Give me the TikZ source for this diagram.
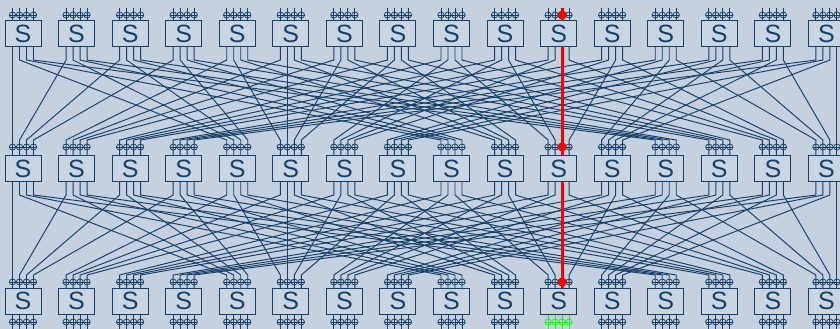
\documentclass[tikz,border=0pt]{standalone}
\usepackage{fontspec}
\setsansfont{Liberation Sans}
\definecolor{bg}{HTML}{C5D0E0}
\definecolor{ink}{HTML}{174068}
\definecolor{boxfill}{HTML}{CAD5E3}
\definecolor{hilite}{HTML}{F20000}
\definecolor{term}{HTML}{22F022}
\tikzset{
  wire/.style={draw=ink, line width=0.95pt},
  swbox/.style={draw=ink, fill=boxfill, line width=1pt, minimum width=36pt,
    minimum height=26pt, inner sep=0pt, text=ink,
    font=\sffamily\fontsize{25}{25}\selectfont},
  portring/.style={draw=#1, line width=0.75pt},
  pathline/.style={draw=hilite, line width=2.8pt},
}
\begin{document}
\begin{tikzpicture}[x=1pt,y=-1pt]
\fill[bg] (0,0) rectangle (840,329);
\useasboundingbox (0,0) rectangle (840,329);

% port coordinates of the three switch rows
\foreach \i in {0,...,15}{
  \foreach \p in {0,...,3}{
    \pgfmathsetmacro\px{23+53.56*\i-10.5+7*\p}
    \coordinate (t\i-top\p) at (\px,8);
    \coordinate (t\i-dn\p)  at (\px,47);
    \coordinate (m\i-up\p)  at (\px,155);
    \coordinate (m\i-dn\p)  at (\px,182);
    \coordinate (b\i-up\p)  at (\px,288);
    \coordinate (b\i-dn\p)  at (\px,314);
    \coordinate (b\i-end\p) at (\px,334);
  }
}

% inter-stage links: switch (a,b), port p -> switch (p,a), port b
\foreach \s in {0,...,15}{
  \foreach \p in {0,...,3}{
    \pgfmathtruncatemacro\ga{div(\s,4)}
    \pgfmathtruncatemacro\gb{mod(\s,4)}
    \pgfmathtruncatemacro\tg{4*\p+\ga}
    \draw[wire] (t\s-dn\p) -- ++(0,13) -- ([yshift=15pt]m\tg-up\gb) -- (m\tg-up\gb);
    \draw[wire] (m\s-dn\p) -- ++(0,13) -- ([yshift=13pt]b\tg-up\gb) -- (b\tg-up\gb);
  }
}

% terminal wires and port rings
\foreach \i in {0,...,15}{
  \ifnum\i=10 \def\rc{term}\else\def\rc{ink}\fi
  \foreach \p in {0,...,3}{
    \draw[wire] (t\i-top\p) -- (t\i-dn\p);
    \draw[wire, draw=\rc] (b\i-dn\p) -- (b\i-end\p);
    \draw[portring=ink] ([yshift=-7pt]t\i-top\p) ellipse [x radius=3.2pt, y radius=3pt];
    \draw[portring=ink] ([yshift=8pt]m\i-up\p) ellipse [x radius=3.2pt, y radius=3pt];
    \draw[portring=ink] ([yshift=6pt]b\i-up\p) ellipse [x radius=3.2pt, y radius=3pt];
    \draw[portring=\rc] ([yshift=-8pt]b\i-dn\p) ellipse [x radius=3.2pt, y radius=3pt];
  }
  \draw[portring=ink] ([yshift=-7pt,xshift=-3.2pt]t\i-top0) -- ([yshift=-7pt,xshift=3.2pt]t\i-top3);
  \draw[portring=ink] ([yshift=8pt,xshift=-3.2pt]m\i-up0) -- ([yshift=8pt,xshift=3.2pt]m\i-up3);
  \draw[portring=ink] ([yshift=6pt,xshift=-3.2pt]b\i-up0) -- ([yshift=6pt,xshift=3.2pt]b\i-up3);
  \draw[portring=\rc] ([yshift=-8pt,xshift=-3.2pt]b\i-dn0) -- ([yshift=-8pt,xshift=3.2pt]b\i-dn3);
}

% highlighted route
\draw[pathline] (t10-top2) -- (b10-up2);

% switches
\foreach \i in {0,...,15}{
  \pgfmathsetmacro\cx{23+53.56*\i}
  \node[swbox] (t\i) at (\cx,34) {S};
  \node[swbox] (m\i) at (\cx,168.5) {S};
  \node[swbox] (b\i) at (\cx,301) {S};
}

% route markers
\fill[hilite] ([yshift=-7pt]t10-top2) circle [radius=4.6pt];
\fill[hilite] ([yshift=8pt]m10-up2) circle [radius=4.6pt];
\fill[hilite] ([yshift=6pt]b10-up2) circle [radius=4.6pt];
\end{tikzpicture}
\end{document}
